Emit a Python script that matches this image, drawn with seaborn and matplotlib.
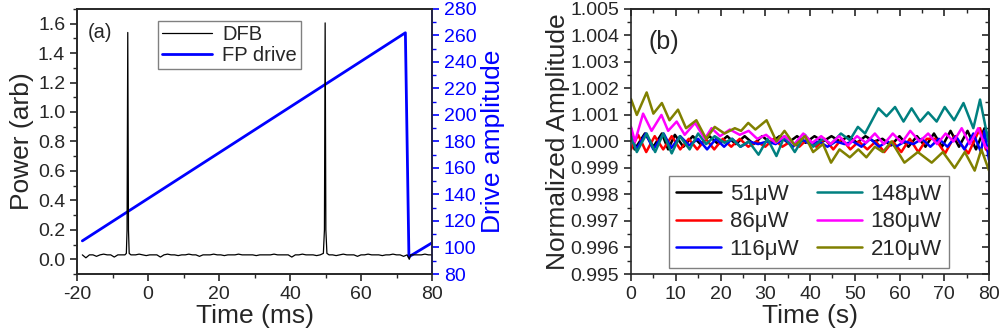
import numpy as np
import pandas as pd
import matplotlib
matplotlib.use("Agg")
import matplotlib.pyplot as plt
import seaborn as sns
from matplotlib.ticker import MultipleLocator, FormatStrFormatter

# ---- panel (a): DFB transmission and FP drive ramp ----
dfb_t = [-18.5, -17.5, -16.5, -15.5, -14.5, -13.5, -12.5, -11.5, -10.5, -9.5,
         -8.5, -7.5, -6.5, -6.1, -5.9, -5.7, -5.5, -5.3, -4.8, -3.5,
         -2.5, -1.5, -0.5, 0.5, 1.5, 2.5, 3.5, 4.5, 5.5, 6.5,
         7.5, 8.5, 9.5, 10.5, 11.5, 12.5, 13.5, 14.5, 15.5, 16.5,
         17.5, 18.5, 19.5, 20.5, 21.5, 22.5, 23.5, 24.5, 25.5, 26.5,
         27.5, 28.5, 29.5, 30.5, 31.5, 32.5, 33.5, 34.5, 35.5, 36.5,
         37.5, 38.5, 39.5, 40.5, 41.5, 42.5, 43.5, 44.5, 45.5, 46.5,
         47.5, 48.5, 49.4, 49.7, 49.9, 50.1, 50.4, 51.0, 52.0, 53.0,
         54.0, 55.0, 56.0, 57.0, 58.0, 59.0, 60.0, 61.0, 62.0, 63.0,
         64.0, 65.0, 66.0, 67.0, 68.0, 69.0, 70.0, 71.0, 72.0, 73.0,
         73.6, 74.0, 75.0, 76.0, 77.0, 78.0, 79.0, 80.0]
dfb_p = [0.030, 0.010, 0.030, 0.030, 0.020, 0.030, 0.035, 0.030, 0.030, 0.015,
         0.030, 0.030, 0.030, 0.040, 0.200, 1.540, 0.200, 0.040, 0.030, 0.030,
         0.035, 0.030, 0.025, 0.030, 0.030, 0.030, 0.015, 0.030, 0.035, 0.030,
         0.030, 0.025, 0.030, 0.030, 0.035, 0.030, 0.030, 0.020, 0.030, 0.030,
         0.030, 0.035, 0.030, 0.030, 0.025, 0.030, 0.030, 0.030, 0.035, 0.030,
         0.030, 0.030, 0.030, 0.025, 0.030, 0.030, 0.030, 0.030, 0.035, 0.030,
         0.030, 0.030, 0.030, 0.015, 0.030, 0.030, 0.035, 0.030, 0.030, 0.030,
         0.025, 0.030, 0.040, 0.200, 1.605, 0.200, 0.040, 0.030, 0.030, 0.025,
         0.030, 0.035, 0.030, 0.030, 0.030, 0.020, 0.030, 0.030, 0.035, 0.030,
         0.030, 0.030, 0.025, 0.030, 0.030, 0.035, 0.030, 0.030, 0.020, 0.030,
         0.000, 0.030, 0.030, 0.030, 0.030, 0.035, 0.030, 0.030]

drive_t = [-18.5, 72.5, 73.5, 80.0]
drive_v = [105, 262, 93, 103.5]

# ---- panel (b): normalized amplitude vs time for each power ----
labels_b = ["51\u03bcW", "86\u03bcW", "116\u03bcW", "148\u03bcW", "180\u03bcW", "210\u03bcW"]
colors_b = ["#000000", "#ff0000", "#0000ff", "#008080", "#ff00ff", "#808000"]

t51 = [0, 0.8, 3.1, 5.0, 6.9, 8.3, 9.8, 11.7, 13.8, 15.5, 17.5, 19.5, 21.5, 23.4, 25.4,
       27.4, 29.3, 31.2, 33.2, 35.1, 37.1, 39.0, 41.0, 42.9, 44.8, 46.7, 48.6, 50.5,
       52.4, 54.3, 56.2, 58.1, 60.0, 62.0, 63.9, 65.8, 67.7, 69.5, 71.4, 73.3, 75.2,
       77.1, 79.0, 80]
a51 = [1.0005, 0.9997, 1.0003, 0.9998, 1.0003, 0.9997, 1.00025, 0.9998, 1.0002, 0.9999,
       1.0002, 0.9999, 1.0002, 0.9999, 1.0002, 0.9999, 1.0002, 0.99995, 1.0002, 0.99995,
       1.0002, 0.99995, 1.0002, 1.0000, 1.0002, 1.0000, 1.0002, 0.99995, 1.0002, 1.0000,
       1.0001, 0.99985, 1.0002, 0.9998, 1.0002, 0.9998, 1.0003, 0.9998, 1.0004, 0.9998,
       1.0004, 0.9997, 1.0005, 1.0001]

t86 = [0, 1.6, 3.4, 5.3, 7.2, 9.1, 11.0, 12.9, 14.8, 16.7, 18.6, 20.5, 22.4, 24.3, 26.2,
       28.1, 30.0, 31.9, 33.8, 35.7, 37.6, 39.5, 41.4, 43.3, 45.2, 47.1, 49.0, 50.9,
       52.8, 54.7, 56.6, 58.5, 60.4, 62.3, 64.2, 66.1, 68.0, 70.2, 72.3, 75.4, 78.0,
       79.3, 80]
a86 = [0.9997, 1.00025, 0.9996, 1.0002, 0.9997, 1.0002, 0.9997, 1.0001, 0.9997, 1.0001,
       0.9997, 1.0001, 0.9998, 1.0001, 0.9998, 1.0000, 0.9998, 1.0001, 0.9998, 1.0000,
       0.9998, 1.0001, 0.9998, 1.0001, 0.9997, 1.0001, 0.9997, 1.0000, 0.9997, 1.0000,
       0.9996, 1.0000, 0.9996, 1.0001, 0.9996, 1.0001, 1.0001, 0.99955, 1.0002, 0.99955,
       1.0005, 0.9997, 0.9996]

t116 = [0, 1.2, 3.3, 5.0, 7.3, 9.0, 11.0, 13.0, 15.0, 17.0, 19.0, 20.8, 22.6, 24.5, 26.4,
        28.4, 30.4, 32.3, 34.2, 36.2, 38.0, 40.0, 42.0, 43.9, 45.8, 47.7, 49.6, 51.5,
        53.5, 55.4, 57.3, 59.2, 61.2, 63.1, 65.0, 66.9, 68.8, 70.7, 72.6, 74.5, 76.5,
        78.2, 79.0, 80]
a116 = [1.0002, 0.9997, 1.0003, 0.9997, 1.0003, 0.99975, 1.0002, 0.99985, 1.0001, 0.9997,
        1.0001, 0.9998, 1.0001, 0.9998, 1.0000, 0.9999, 1.0000, 0.9999, 1.0001, 0.9998,
        1.0001, 0.9999, 1.0000, 0.9998, 1.0000, 0.9999, 1.0000, 0.9998, 1.0001, 0.9998,
        1.0000, 0.9998, 1.0000, 0.9999, 1.0001, 0.9998, 1.0001, 0.9998, 1.0002, 0.9997,
        1.0003, 0.9996, 1.0004, 0.9993]

t148 = [0, 1.3, 3.5, 5.4, 7.2, 9.1, 10.9, 13.1, 15.0, 16.8, 18.7, 20.9, 22.6, 24.4, 26.3,
        28.5, 30.5, 32.5, 34.3, 36.6, 38.9, 40.7, 42.9, 44.7, 46.9, 48.9, 50.7, 52.3,
        55.3, 57.1, 59.0, 60.9, 62.7, 64.6, 66.4, 68.3, 70.1, 72.2, 74.3, 76.5, 78.0,
        79.4, 80]
a148 = [1.0002, 0.9996, 1.0003, 0.9996, 1.0003, 0.99955, 1.0002, 0.9997, 1.0003, 0.9999,
        1.0002, 0.99995, 1.0001, 0.9998, 1.0000, 0.9995, 1.0001, 0.99945, 1.0002, 0.9996,
        1.00025, 0.9998, 1.0001, 0.9999, 1.0003, 1.00005, 1.00055, 1.0003, 1.00125, 1.00095,
        1.0013, 1.00075, 1.00125, 1.00075, 1.0011, 1.00075, 1.0013, 1.0008, 1.00145, 1.0005,
        1.00158, 1.0004, 0.9999]

t180 = [0, 0.9, 2.7, 4.6, 6.8, 8.3, 10.2, 12.0, 14.3, 16.5, 18.0, 19.9, 22.1, 24.3, 26.3,
        28.2, 30.2, 32.3, 34.3, 36.5, 38.5, 40.5, 42.5, 44.6, 46.5, 48.5, 50.5, 52.5,
        54.5, 56.5, 58.5, 60.5, 62.4, 64.5, 66.4, 68.4, 70.3, 72.1, 73.9, 75.7, 77.6,
        79.2, 80]
a180 = [1.00055, 1.0000, 1.00105, 1.0004, 1.0010, 1.0004, 1.00075, 1.00025, 1.0007, 1.0001,
        1.0005, 1.0002, 1.00045, 1.00025, 1.0004, 1.0001, 1.00025, 0.99995, 1.0002, 0.9999,
        1.0003, 0.99995, 1.0002, 0.9999, 1.0002, 0.99985, 1.0002, 0.99995, 1.0003, 0.9999,
        1.0003, 0.99995, 1.0004, 1.0000, 1.0003, 0.9999, 1.0003, 1.0000, 1.0005, 0.9999,
        1.0005, 0.9998, 0.9997]

t210 = [0, 1.3, 3.5, 5.0, 6.9, 8.6, 10.5, 12.3, 14.6, 16.8, 18.7, 20.9, 23.2, 24.6, 26.2,
        27.8, 30.3, 32.5, 34.3, 36.6, 38.9, 40.7, 42.9, 44.7, 46.6, 48.9, 50.8, 52.6,
        54.5, 56.3, 58.2, 61.1, 64.1, 67.2, 69.7, 72.3, 74.6, 76.8, 78.3, 80]
a210 = [1.0016, 1.0010, 1.00185, 1.00105, 1.00145, 1.0008, 1.0012, 1.0005, 1.0008, 1.0001,
        1.00055, 1.0003, 1.0005, 1.0004, 1.0007, 1.00045, 1.0008, 1.0000, 1.0004, 0.99985,
        1.0002, 0.9996, 0.9999, 0.9992, 0.9997, 0.9994, 0.9997, 0.9994, 0.9998, 0.9996,
        1.0000, 0.9992, 0.9996, 0.9992, 0.9996, 0.9990, 0.9996, 0.9989, 0.9997, 0.9989]

series_t = [t51, t86, t116, t148, t180, t210]
series_a = [a51, a86, a116, a148, a180, a210]

sns.set_style("ticks")
plt.rcParams['font.family'] = ['Liberation Sans', 'DejaVu Sans']
plt.rcParams['axes.linewidth'] = 1.2
plt.rcParams['axes.unicode_minus'] = False

fig = plt.figure(figsize=(10, 3.36), dpi=100)

# ----- left panel -----
ax = fig.add_axes([0.077, 0.1845, 0.355, 0.789])
ax2 = ax.twinx()
df_dfb = pd.DataFrame({"t": dfb_t, "p": dfb_p})
df_drv = pd.DataFrame({"t": drive_t, "v": drive_v})
sns.lineplot(data=df_dfb, x="t", y="p", ax=ax, color="black", lw=0.9,
             estimator=None, label="DFB", legend=False)
sns.lineplot(data=df_drv, x="t", y="v", ax=ax2, color="#0000ff", lw=2.0,
             estimator=None, label="FP drive", legend=False)

ax.set_xlim(-20, 80)
ax.set_ylim(-0.1, 1.7)
ax2.set_ylim(80, 280)
ax.xaxis.set_major_locator(MultipleLocator(20))
ax.xaxis.set_minor_locator(MultipleLocator(10))
ax.yaxis.set_major_locator(MultipleLocator(0.2))
ax.yaxis.set_minor_locator(MultipleLocator(0.1))
ax.yaxis.set_major_formatter(FormatStrFormatter('%.1f'))
ax2.yaxis.set_major_locator(MultipleLocator(20))
ax2.yaxis.set_minor_locator(MultipleLocator(10))
ax.tick_params(axis='both', which='major', direction='out', length=5, width=1.2,
               labelsize=14, top=False, right=False)
ax.tick_params(axis='both', which='minor', direction='out', length=3, width=1.0,
               top=False, right=False)
ax2.tick_params(axis='y', which='major', direction='out', length=5, width=1.2,
                labelsize=14, colors='#0000ff')
ax2.tick_params(axis='y', which='minor', direction='out', length=3, width=1.0,
                colors='#0000ff')
ax2.spines['right'].set_color('#0000ff')
for s in ['top', 'right']:
    ax.spines[s].set_visible(True)
ax2.spines['top'].set_visible(True)
ax.set_xlabel("Time (ms)", fontsize=19, labelpad=1)
ax.set_ylabel("Power (arb)", fontsize=19, labelpad=3)
ax2.set_ylabel("Drive amplitude", fontsize=19, color='#0000ff', labelpad=3)
ax2.set_xlabel("")
ax.text(0.03, 0.91, "(a)", transform=ax.transAxes, fontsize=14.5, va='center', ha='left')

h1, l1 = ax.get_legend_handles_labels()
h2, l2 = ax2.get_legend_handles_labels()
leg = ax.legend(h1 + h2, l1 + l2, loc='upper left', bbox_to_anchor=(0.228, 0.955),
                borderaxespad=0, fontsize=14.5, frameon=True, fancybox=False,
                edgecolor='#808080', framealpha=1, handlelength=2.5,
                labelspacing=0.12, borderpad=0.2, handletextpad=0.5)
leg.get_frame().set_linewidth(1.0)
ax.set_zorder(ax2.get_zorder() + 1)
ax.patch.set_visible(False)

# ----- right panel -----
bx = fig.add_axes([0.631, 0.1845, 0.358, 0.789])
for tt, aa, lab, col in zip(series_t, series_a, labels_b, colors_b):
    d = pd.DataFrame({"t": tt, "a": aa})
    sns.lineplot(data=d, x="t", y="a", ax=bx, color=col, lw=1.8,
                 estimator=None, label=lab, legend=False)
bx.set_xlim(0, 80)
bx.set_ylim(0.995, 1.005)
bx.xaxis.set_major_locator(MultipleLocator(10))
bx.xaxis.set_minor_locator(MultipleLocator(5))
bx.yaxis.set_major_locator(MultipleLocator(0.001))
bx.yaxis.set_minor_locator(MultipleLocator(0.0005))
bx.yaxis.set_major_formatter(FormatStrFormatter('%.3f'))
bx.tick_params(axis='both', which='major', direction='out', length=5, width=1.2,
               labelsize=14, top=False, right=False)
bx.tick_params(axis='both', which='minor', direction='out', length=3, width=1.0,
               top=False, right=False)
for s in ['top', 'right']:
    bx.spines[s].set_visible(True)
# inward ticks on the top and right spines
sx = bx.secondary_xaxis('top')
sx.xaxis.set_major_locator(MultipleLocator(10))
sx.xaxis.set_minor_locator(MultipleLocator(5))
sx.tick_params(which='major', direction='in', length=5, width=1.2, labeltop=False)
sx.tick_params(which='minor', direction='in', length=3, width=1.0)
sy = bx.secondary_yaxis('right')
sy.yaxis.set_major_locator(MultipleLocator(0.001))
sy.yaxis.set_minor_locator(MultipleLocator(0.0005))
sy.tick_params(which='major', direction='in', length=5, width=1.2, labelright=False)
sy.tick_params(which='minor', direction='in', length=3, width=1.0)

bx.set_xlabel("Time (s)", fontsize=19, labelpad=1)
bx.set_ylabel("Normalized Amplitude", fontsize=19, labelpad=0)
bx.text(0.05, 0.875, "(b)", transform=bx.transAxes, fontsize=18, va='center', ha='left')
leg2 = bx.legend(loc='lower center', bbox_to_anchor=(0.497, 0.023), ncol=2,
                 fontsize=16, frameon=True, fancybox=False, edgecolor='#808080',
                 framealpha=1, handlelength=2.0, labelspacing=0.3, columnspacing=0.8,
                 borderpad=0.35, handletextpad=0.4, borderaxespad=0)
leg2.get_frame().set_linewidth(1.0)

fig.savefig("out.png", dpi=100)
